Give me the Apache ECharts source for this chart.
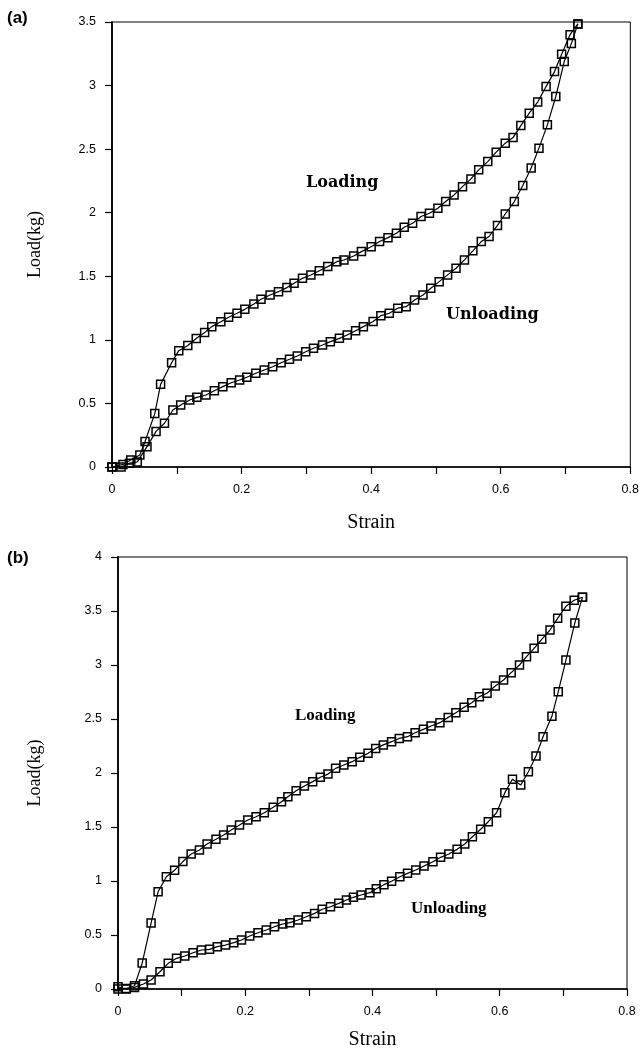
<!DOCTYPE html>
<html><head><meta charset="utf-8">
<script src="https://cdn.jsdelivr.net/npm/echarts@6/dist/echarts.min.js"></script>
<style>html,body{margin:0;padding:0;background:#fff}#c{width:642px;height:1051px}</style>
</head><body><div id="c"></div>
<script>
// Panel (a)
var loadA_strain = [0,0.017,0.029,0.043,0.051,0.066,0.075,0.092,0.103,0.117,0.13,0.143,0.154,0.168,0.18,0.193,0.205,0.219,0.23,0.244,0.257,0.27,0.281,0.294,0.307,0.32,0.333,0.347,0.358,0.373,0.385,0.4,0.413,0.426,0.439,0.451,0.464,0.477,0.49,0.503,0.515,0.528,0.541,0.554,0.566,0.58,0.593,0.607,0.619,0.631,0.644,0.657,0.67,0.683,0.694,0.707,0.719];
var loadA_load = [0,0.02,0.055,0.095,0.2,0.42,0.65,0.82,0.915,0.955,1.01,1.057,1.104,1.143,1.178,1.209,1.24,1.282,1.319,1.353,1.379,1.411,1.445,1.484,1.51,1.544,1.576,1.615,1.628,1.66,1.694,1.733,1.773,1.804,1.839,1.886,1.917,1.97,1.996,2.035,2.088,2.14,2.205,2.266,2.337,2.402,2.476,2.547,2.591,2.685,2.783,2.87,2.992,3.11,3.247,3.4,3.485];
var unloadA_strain = [0,0.014,0.027,0.039,0.054,0.068,0.081,0.094,0.106,0.12,0.131,0.145,0.158,0.171,0.184,0.197,0.208,0.222,0.235,0.248,0.261,0.274,0.286,0.299,0.311,0.325,0.337,0.351,0.363,0.376,0.388,0.403,0.415,0.428,0.441,0.454,0.467,0.48,0.492,0.505,0.518,0.531,0.544,0.557,0.57,0.582,0.595,0.607,0.621,0.634,0.647,0.659,0.672,0.685,0.698,0.709,0.719];
var unloadA_load = [0,0,0.03,0.04,0.16,0.28,0.344,0.448,0.488,0.527,0.548,0.566,0.6,0.632,0.663,0.684,0.706,0.737,0.763,0.789,0.82,0.847,0.873,0.907,0.934,0.96,0.986,1.012,1.038,1.072,1.104,1.145,1.19,1.209,1.249,1.261,1.314,1.353,1.406,1.458,1.511,1.563,1.629,1.7,1.773,1.813,1.9,1.99,2.088,2.214,2.351,2.508,2.691,2.914,3.189,3.33,3.485];
// Panel (b)
var loadB_strain = [0,0.013,0.026,0.038,0.052,0.063,0.076,0.089,0.102,0.115,0.128,0.14,0.154,0.166,0.178,0.191,0.204,0.217,0.23,0.244,0.257,0.267,0.28,0.293,0.306,0.318,0.33,0.342,0.355,0.368,0.38,0.393,0.405,0.417,0.43,0.442,0.455,0.467,0.48,0.492,0.506,0.519,0.531,0.544,0.556,0.568,0.58,0.593,0.606,0.618,0.631,0.642,0.654,0.666,0.679,0.691,0.704,0.717,0.73];
var loadB_load = [0,0.005,0.03,0.24,0.61,0.9,1.04,1.1,1.18,1.25,1.287,1.343,1.386,1.426,1.472,1.519,1.565,1.595,1.632,1.682,1.734,1.78,1.836,1.88,1.92,1.96,1.99,2.043,2.074,2.105,2.145,2.182,2.228,2.26,2.29,2.32,2.336,2.373,2.404,2.435,2.466,2.515,2.558,2.608,2.651,2.707,2.738,2.806,2.861,2.929,3.0,3.077,3.154,3.238,3.324,3.432,3.543,3.6,3.627];
var unloadB_strain = [0,0.013,0.026,0.04,0.052,0.066,0.079,0.092,0.105,0.118,0.131,0.144,0.156,0.169,0.182,0.194,0.207,0.22,0.233,0.246,0.259,0.27,0.283,0.296,0.309,0.321,0.334,0.347,0.359,0.37,0.382,0.396,0.406,0.418,0.43,0.443,0.455,0.468,0.481,0.495,0.507,0.52,0.533,0.545,0.557,0.57,0.582,0.595,0.608,0.62,0.633,0.645,0.657,0.668,0.682,0.692,0.704,0.718,0.73];
var unloadB_load = [0.02,0,0.015,0.046,0.083,0.16,0.238,0.284,0.306,0.336,0.361,0.367,0.392,0.407,0.429,0.454,0.491,0.521,0.546,0.577,0.602,0.614,0.639,0.669,0.7,0.738,0.762,0.793,0.824,0.849,0.87,0.892,0.928,0.966,0.997,1.04,1.071,1.102,1.139,1.179,1.219,1.25,1.293,1.343,1.41,1.479,1.549,1.632,1.818,1.942,1.889,2.012,2.157,2.336,2.525,2.753,3.046,3.39,3.627];

var xTicks = [0, 0.2, 0.4, 0.6, 0.8];
var yMaxA = 3.5, yMaxB = 4;

function zip(a, b) { var n = Math.min(a.length, b.length), r = []; for (var i = 0; i < n; i++) r.push([a[i], b[i]]); return r; }

var INK = '#000';
var sansF = "'Liberation Sans', Arial, sans-serif";
var serifF = "'Liberation Serif', 'Times New Roman', serif";

function xAx(gi) {
  return {
    type: 'value', gridIndex: gi, min: xTicks[0], max: xTicks[xTicks.length - 1], interval: 0.2,
    name: 'Strain', nameLocation: 'middle', nameGap: gi === 0 ? 46 : 41,
    nameTextStyle: { fontFamily: serifF, fontSize: 20, color: INK },
    axisLine: { show: true, lineStyle: { color: INK, width: 1.5 } },
    axisTick: { show: true, inside: false, length: 7, lineStyle: { color: INK, width: 1.2 } },
    minorTick: { show: true, splitNumber: 2, length: 7, lineStyle: { color: INK, width: 1.2 } },
    axisLabel: { fontFamily: sansF, fontSize: 12.5, color: INK, margin: 16 },
    splitLine: { show: false }
  };
}
function yAx(gi, max) {
  return {
    type: 'value', gridIndex: gi, min: 0, max: max, interval: 0.5,
    name: 'Load(kg)', nameLocation: 'middle', nameGap: gi === 0 ? 68 : 74, nameRotate: 90,
    nameTextStyle: { fontFamily: serifF, fontSize: 18, color: INK },
    axisLine: { show: true, lineStyle: { color: INK, width: 1.8 } },
    axisTick: { show: true, inside: false, length: 7, lineStyle: { color: INK, width: 1.2 } },
    axisLabel: { fontFamily: sansF, fontSize: 12.5, color: INK, margin: 16 },
    splitLine: { show: false }
  };
}
function ser(name, gi, data) {
  return {
    name: name, type: 'line', xAxisIndex: gi, yAxisIndex: gi, data: data,
    symbol: 'rect', symbolSize: 8, showSymbol: true, animation: false,
    lineStyle: { color: INK, width: 1.2 },
    itemStyle: { color: 'rgba(255,255,255,0)', borderColor: INK, borderWidth: 1.5 }
  };
}

var chart = echarts.init(document.getElementById('c'), null, { renderer: 'canvas' });
chart.setOption({
  backgroundColor: '#fff',
  animation: false,
  grid: [
    { left: 112, top: 22, width: 519, height: 445, show: true, borderColor: INK, borderWidth: 1, backgroundColor: 'transparent' },
    { left: 118, top: 557, width: 509, height: 432, show: true, borderColor: INK, borderWidth: 1, backgroundColor: 'transparent' }
  ],
  xAxis: [xAx(0), xAx(1)],
  yAxis: [yAx(0, yMaxA), yAx(1, yMaxB)],
  series: [
    ser('Loading (a)', 0, zip(loadA_strain, loadA_load)),
    ser('Unloading (a)', 0, zip(unloadA_strain, unloadA_load)),
    ser('Loading (b)', 1, zip(loadB_strain, loadB_load)),
    ser('Unloading (b)', 1, zip(unloadB_strain, unloadB_load))
  ],
  graphic: [
    { type: 'text', left: 7, top: 10, style: { text: '(a)', fontFamily: sansF, fontWeight: 'bold', fontSize: 17, fill: INK } },
    { type: 'text', left: 7, top: 550, style: { text: '(b)', fontFamily: sansF, fontWeight: 'bold', fontSize: 17, fill: INK } },
    { type: 'text', left: 306, top: 175, style: { text: 'Loading', fontFamily: "'DejaVu Serif', serif", fontWeight: 'bold', fontSize: 16, fill: INK } },
    { type: 'text', left: 446, top: 307, style: { text: 'Unloading', fontFamily: "'DejaVu Serif', serif", fontWeight: 'bold', fontSize: 16, fill: INK } },
    { type: 'text', left: 295, top: 707, style: { text: 'Loading', fontFamily: serifF, fontWeight: 'bold', fontSize: 17, fill: INK } },
    { type: 'text', left: 411, top: 900, style: { text: 'Unloading', fontFamily: serifF, fontWeight: 'bold', fontSize: 17, fill: INK } }
  ]
});
</script></body></html>
